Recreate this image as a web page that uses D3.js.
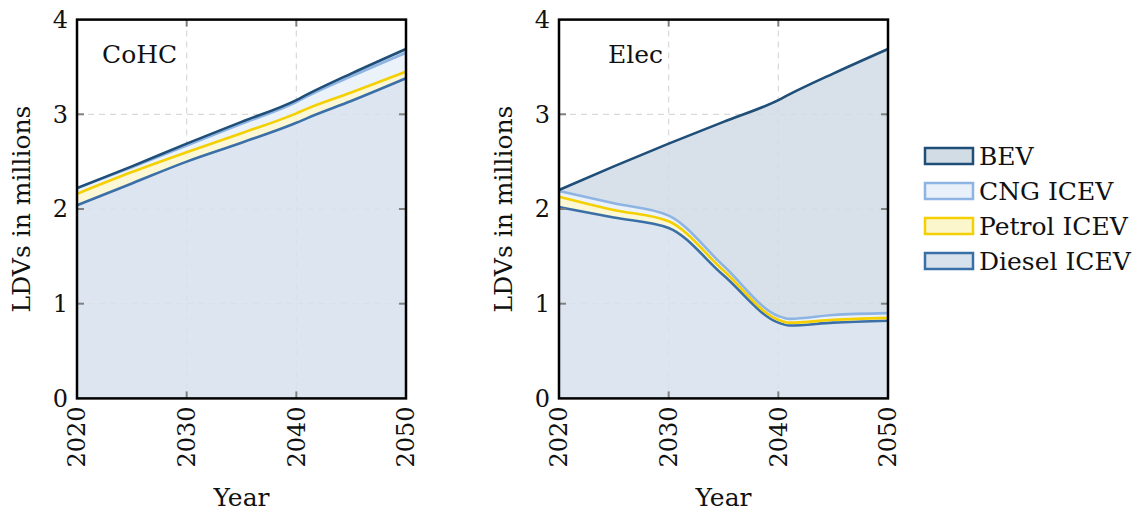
<!DOCTYPE html>
<html>
<head>
<meta charset="utf-8">
<script src="https://d3js.org/d3.v7.min.js"></script>
<style>
  body { margin: 0; background: #fff; }
  svg text { font-family: "DejaVu Serif", serif; fill: #111; }
</style>
</head>
<body>
<script>
// years
var years = [2020, 2025, 2030, 2035, 2040, 2041, 2045, 2050];

// CoHC scenario (millions)
var cohcDiesel = [2.04, 2.27, 2.50, 2.70, 2.91, 2.96, 3.14, 3.38];
var cohcPetrol = [0.12, 0.12, 0.10, 0.10, 0.10, 0.10, 0.09, 0.07];
var cohcCng    = [0.06, 0.05, 0.07, 0.10, 0.12, 0.13, 0.17, 0.20];
var cohcBev    = [0.00, 0.01, 0.02, 0.02, 0.02, 0.02, 0.03, 0.04];

// Elec scenario (millions)
var elecDiesel = [2.02, 1.91, 1.80, 1.30, 0.80, 0.77, 0.80, 0.82];
var elecPetrol = [0.11, 0.08, 0.07, 0.05, 0.03, 0.03, 0.03, 0.03];
var elecCng    = [0.06, 0.07, 0.06, 0.05, 0.04, 0.04, 0.05, 0.05];
var elecBev    = [0.01, 0.39, 0.76, 1.52, 2.28, 2.37, 2.55, 2.79];

var xTicks = [2020, 2030, 2040, 2050];
var yTicks = [0, 1, 2, 3, 4];
var seriesNames = ["BEV", "CNG ICEV", "Petrol ICEV", "Diesel ICEV"];
var keys = ["diesel", "petrol", "cng", "bev"];

var style = {
  bev:    {stroke: "#1f4e79", fill: "#d1dce5"},
  cng:    {stroke: "#8db4e2", fill: "#e8f0f9"},
  petrol: {stroke: "#f5d000", fill: "#fcf6cc"},
  diesel: {stroke: "#3a6fa8", fill: "#d7e2ed"}
};

var svg = d3.select("body").append("svg")
  .attr("width", 1141).attr("height", 513);

function rows(d, p, c, b) {
  return years.map(function(y, i) {
    return {year: y, diesel: d[i], petrol: p[i], cng: c[i], bev: b[i]};
  });
}

var panels = [
  {title: "CoHC", left: 77, data: rows(cohcDiesel, cohcPetrol, cohcCng, cohcBev)},
  {title: "Elec", left: 559, data: rows(elecDiesel, elecPetrol, elecCng, elecBev)}
];

var plotTop = 19.6, plotBottom = 398.4, w = 329;

panels.forEach(function(p) {
  var x = d3.scaleLinear().domain([2020, 2050]).range([p.left, p.left + w]);
  var y = d3.scaleLinear().domain([0, 4]).range([plotBottom, plotTop]);
  var g = svg.append("g");

  // grid
  g.selectAll(".gx").data(xTicks.slice(1, 3)).enter().append("line")
    .attr("x1", x).attr("x2", x).attr("y1", plotTop).attr("y2", plotBottom)
    .attr("stroke", "#d9d9d9").attr("stroke-width", 1.2).attr("stroke-dasharray", "6,5");
  g.selectAll(".gy").data(yTicks.slice(1, 4)).enter().append("line")
    .attr("y1", y).attr("y2", y).attr("x1", p.left).attr("x2", p.left + w)
    .attr("stroke", "#d9d9d9").attr("stroke-width", 1.2).attr("stroke-dasharray", "6,5");

  var stacked = d3.stack().keys(keys)(p.data);

  var area = d3.area().curve(d3.curveMonotoneX)
    .x(function(d) { return x(d.data.year); })
    .y0(function(d) { return y(d[0]); })
    .y1(function(d) { return y(d[1]); });
  var line = d3.line().curve(d3.curveMonotoneX)
    .x(function(d) { return x(d.data.year); })
    .y(function(d) { return y(d[1]); });

  stacked.forEach(function(s) {
    g.append("path").attr("d", area(s))
      .attr("fill", style[s.key].fill).attr("fill-opacity", 0.85);
  });
  stacked.forEach(function(s) {
    g.append("path").attr("d", line(s))
      .attr("fill", "none").attr("stroke", style[s.key].stroke).attr("stroke-width", 2.6);
  });

  // tick marks inside frame
  xTicks.slice(1, 3).forEach(function(t) {
    g.append("line").attr("x1", x(t)).attr("x2", x(t)).attr("y1", plotBottom).attr("y2", plotBottom - 7)
      .attr("stroke", "#808080").attr("stroke-width", 2);
    g.append("line").attr("x1", x(t)).attr("x2", x(t)).attr("y1", plotTop).attr("y2", plotTop + 7)
      .attr("stroke", "#808080").attr("stroke-width", 2);
  });
  yTicks.slice(1, 4).forEach(function(t) {
    g.append("line").attr("y1", y(t)).attr("y2", y(t)).attr("x1", p.left).attr("x2", p.left + 7)
      .attr("stroke", "#808080").attr("stroke-width", 2);
    g.append("line").attr("y1", y(t)).attr("y2", y(t)).attr("x1", p.left + w).attr("x2", p.left + w - 7)
      .attr("stroke", "#808080").attr("stroke-width", 2);
  });

  // frame
  g.append("rect").attr("x", p.left).attr("y", plotTop).attr("width", w).attr("height", plotBottom - plotTop)
    .attr("fill", "none").attr("stroke", "#000").attr("stroke-width", 2.5);

  // tick labels
  g.selectAll(".ty").data(yTicks).enter().append("text")
    .attr("x", p.left - 9).attr("y", function(d) { return y(d); }).attr("dy", "0.35em")
    .attr("text-anchor", "end").style("font-size", "24px").text(function(d) { return d; });
  g.selectAll(".tx").data(xTicks).enter().append("text")
    .attr("transform", function(d) { return "translate(" + x(d) + "," + (plotBottom + 8) + ") rotate(-90)"; })
    .attr("dy", "0.35em").attr("text-anchor", "end").style("font-size", "24px")
    .text(function(d) { return d; });

  // axis titles
  g.append("text").attr("x", p.left + w / 2).attr("y", 506).attr("text-anchor", "middle")
    .style("font-size", "25px").text("Year");
  g.append("text").attr("transform", "translate(" + (p.left - 47) + "," + ((plotTop + plotBottom) / 2) + ") rotate(-90)")
    .attr("text-anchor", "middle").style("font-size", "25px").text("LDVs in millions");

  g.append("text").attr("x", p.title === "CoHC" ? 102 : 608).attr("y", 63)
    .style("font-size", "25px").text(p.title);
});

// legend
var legKeys = ["bev", "cng", "petrol", "diesel"];
var leg = svg.append("g").selectAll("g").data(seriesNames).enter().append("g")
  .attr("transform", function(d, i) { return "translate(925," + (156 + i * 35) + ")"; });
leg.append("rect").attr("x", 0).attr("y", -8).attr("width", 48).attr("height", 16)
  .attr("fill", function(d, i) { return style[legKeys[i]].fill; })
  .attr("stroke", function(d, i) { return style[legKeys[i]].stroke; })
  .attr("stroke-width", 2.5);
leg.append("text").attr("x", 54).attr("dy", "0.35em").style("font-size", "25px")
  .text(function(d) { return d; });
</script>
</body>
</html>
